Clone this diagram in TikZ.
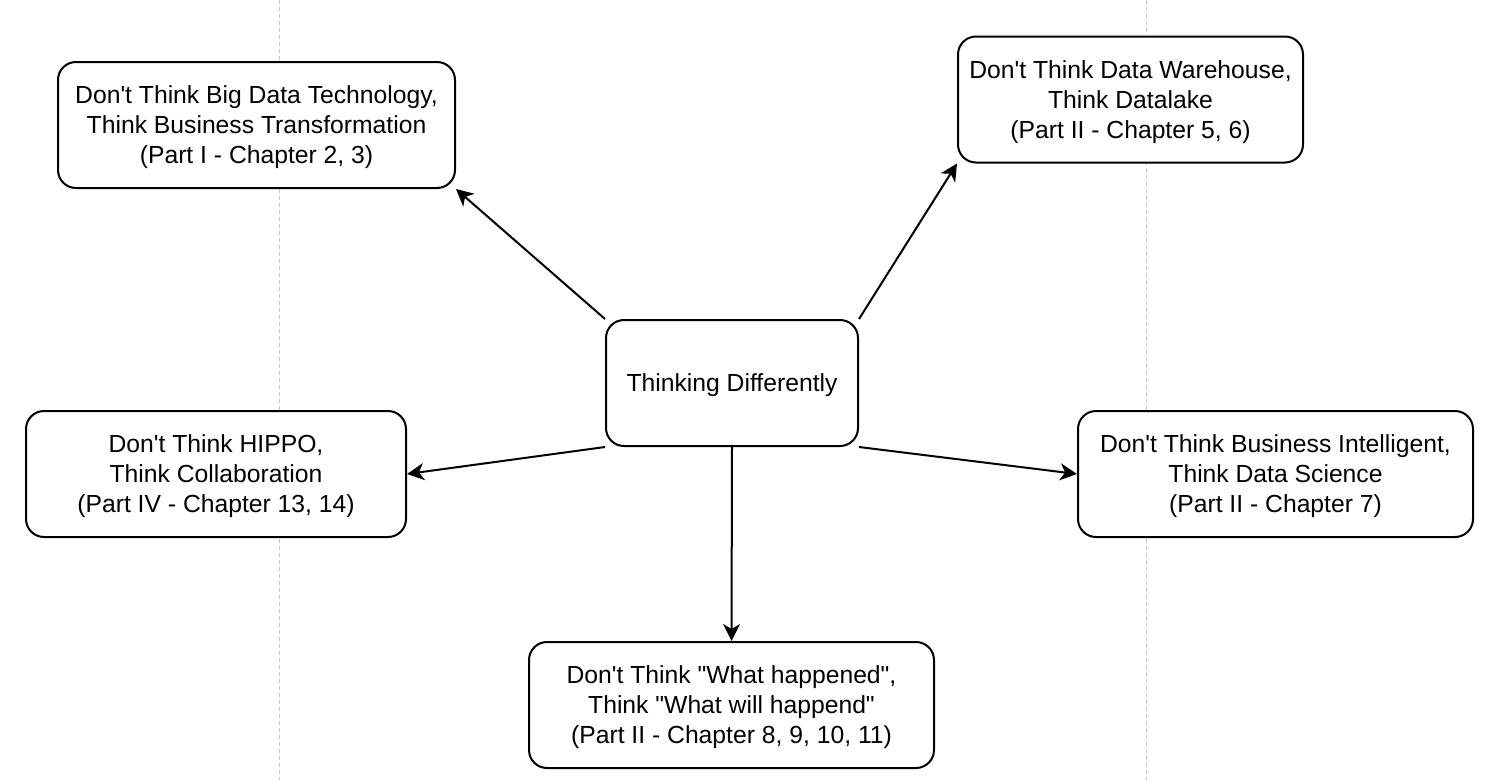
\documentclass[tikz,border=0pt]{standalone}
\usepackage{fontspec}
\setmainfont{Liberation Sans}[Ligatures=TeXOff]
\usetikzlibrary{arrows.meta,positioning}

\begin{document}
\begin{tikzpicture}[
                x=1pt, y=-1pt,
                box/.style={draw, fill=white, rounded corners=18pt, line width=2pt, align=center,
                    inner sep=0pt, minimum height=126pt, text depth=-4pt,
                    font=\fontsize{24.7}{30}\selectfont},
                link/.style={line width=2pt, -{Stealth[length=17pt,width=17pt,inset=5pt]}},
                guide/.style={draw=black!22, line width=1pt, dash pattern=on 4pt off 3pt}
            ]
                \useasboundingbox (0,0) rectangle (1489,780);
                % background guides
                \draw[guide] (279,0) -- (279,780);
                \draw[guide] (1146,0) -- (1146,780);
                \node[box, minimum width=252pt] (think) at (732,383)    {Thinking Differently};
                \node[box, minimum width=397pt] (bigdata) at (256.5,125) {Don't Think Big Data Technology,\\Think Business Transformation\\(Part I - Chapter 2, 3)};
                \node[box, minimum width=345pt] (lake) at (1130.5,99.5)  {Don't Think Data Warehouse,\\Think Datalake\\(Part II - Chapter 5, 6)};
                \node[box, minimum width=380pt] (hippo) at (216,474)     {Don't Think HIPPO,\\Think Collaboration\\(Part IV - Chapter 13, 14)};
                \node[box, minimum width=395pt] (science) at (1275.5,474) {Don't Think Business Intelligent,\\Think Data Science\\(Part II - Chapter 7)};
                \node[box, minimum width=405pt] (future) at (731.5,705)  {Don't Think "What happened",\\Think "What will happend"\\(Part II - Chapter 8, 9, 10, 11)};
                \draw[link] (think.north west) -- (bigdata.south east);
                \draw[link] (think.north east) -- (lake.south west);
                \draw[link] (think.south west) -- (hippo.east);
                \draw[link] (think.south east) -- (science.west);
                \draw[link] (think.south) -- (future.north);
            \end{tikzpicture}
\end{document}
